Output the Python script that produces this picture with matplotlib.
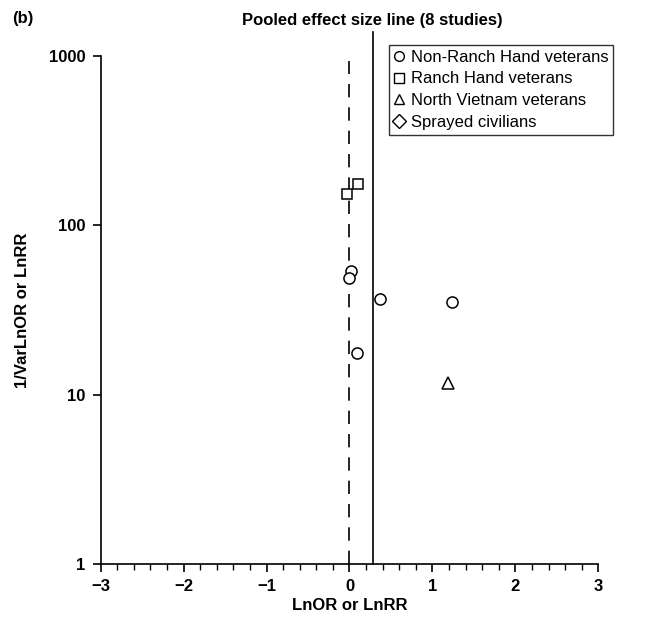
import numpy as np
import matplotlib
matplotlib.use("Agg")
import matplotlib.pyplot as plt
from matplotlib.ticker import FixedLocator, NullLocator
from matplotlib.lines import Line2D

plt.rcParams['font.family'] = ['Liberation Sans', 'DejaVu Sans']

# data (x = LnOR/LnRR, y = 1/Var)
non_ranch_x = [0.02, 0.00, 0.37, 1.24, 0.09]
non_ranch_y = [53.5, 48.9, 36.9, 35.1, 17.5]
ranch_x = [-0.03, 0.10]
ranch_y = [152, 175]
north_x = [1.19]
north_y = [11.7]
sprayed_x = []
sprayed_y = []
pooled = 0.28

x_ticks = [-3, -2, -1, 0, 1, 2, 3]
x_ticklabels = ['\u22123', '\u22122', '\u22121', '0', '1', '2', '3']
y_ticks = [1, 10, 100, 1000]
y_ticklabels = ['1', '10', '100', '1000']

legend_labels = ['Non-Ranch Hand veterans', 'Ranch Hand veterans',
                 'North Vietnam veterans', 'Sprayed civilians']
legend_markers = ['o', 's', '^', 'D']

fig = plt.figure(figsize=(6.56, 6.28), dpi=100)
ax = fig.add_axes([0.1535, 0.102, 0.7585, 0.809])

mk = dict(linestyle='none', markerfacecolor='white', markeredgecolor='black',
          markeredgewidth=1.1, zorder=3)
ax.plot(non_ranch_x, non_ranch_y, marker='o', markersize=8, **mk)
ax.plot(ranch_x, ranch_y, marker='s', markersize=7.5, **mk)
ax.plot(north_x, north_y, marker='^', markersize=8, **mk)
ax.plot(sprayed_x, sprayed_y, marker='D', markersize=7, **mk)

ax.axvline(0, ymin=0, ymax=0.99, color='black', lw=1.2, dashes=(8, 6), zorder=2)
ax.axvline(pooled, ymin=0, ymax=1.047, color='black', lw=1.2, clip_on=False, zorder=2)

ax.set_yscale('log')
ax.set_xlim(-3, 3)
ax.set_ylim(1, 1000)
ax.xaxis.set_major_locator(FixedLocator(x_ticks))
ax.xaxis.set_minor_locator(FixedLocator(np.arange(-3, 3.01, 0.2)))
ax.set_xticklabels(x_ticklabels)
ax.yaxis.set_major_locator(FixedLocator(y_ticks))
ax.yaxis.set_minor_locator(NullLocator())
ax.set_yticklabels(y_ticklabels)

for side in ('top', 'right'):
    ax.spines[side].set_visible(False)
for side in ('left', 'bottom'):
    ax.spines[side].set_linewidth(1.2)

ax.tick_params(axis='both', which='major', direction='out', length=6, width=1.2,
               labelsize=12, pad=5)
ax.tick_params(axis='x', which='minor', direction='out', length=4, width=1.0)
for lab in ax.get_xticklabels() + ax.get_yticklabels():
    lab.set_fontweight('bold')

ax.set_xlabel('LnOR or LnRR', fontsize=12, fontweight='bold', labelpad=3)
ax.set_ylabel('1/VarLnOR or LnRR', fontsize=12, fontweight='bold')
ax.yaxis.set_label_coords(-0.142, 0.5)

fig.text(0.567, 0.968, 'Pooled effect size line (8 studies)', ha='center', va='center',
         fontsize=12, fontweight='bold')
fig.text(0.018, 0.970, '(b)', ha='left', va='center', fontsize=12, fontweight='bold')

handles = [Line2D([0], [0], marker=m, linestyle='none', markerfacecolor='white',
                  markeredgecolor='black', markeredgewidth=1.0, markersize=7)
           for m in legend_markers]
leg = ax.legend(handles, legend_labels, loc='upper right', bbox_to_anchor=(1.03, 1.022),
                fontsize=12, frameon=True, fancybox=False, handlelength=0.6,
                handletextpad=0.4, borderpad=0.3, labelspacing=0.4, borderaxespad=0)
leg.get_frame().set_edgecolor('black')
leg.get_frame().set_linewidth(1.0)

fig.savefig('out.png', dpi=100)
